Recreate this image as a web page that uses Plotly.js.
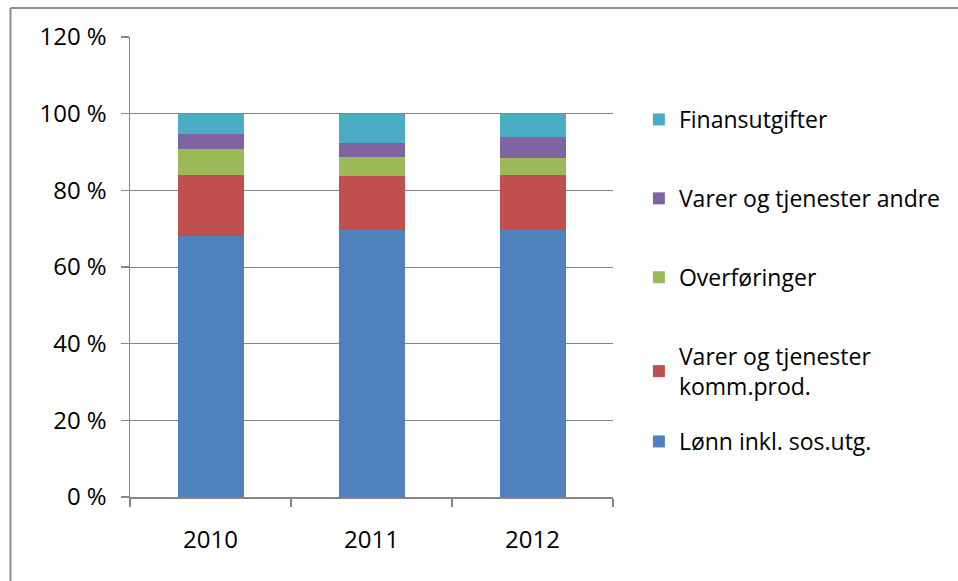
<!DOCTYPE html>
<html>
<head>
<meta charset="utf-8">
<script src="https://cdn.plot.ly/plotly-3.0.1.min.js"></script>
<style>html,body{margin:0;padding:0;background:#fff;}#chart{width:958px;height:581px;}</style>
</head>
<body>
<div id="chart"></div>
<script>
const years = ["2010", "2011", "2012"];
const lonn = [68.1, 69.7, 69.7];
const varerKomm = [15.9, 14.0, 14.3];
const overforinger = [6.7, 5.0, 4.4];
const varerAndre = [4.0, 3.6, 5.5];
const finans = [5.3, 7.7, 6.1];

const seriesNames = ["Lønn inkl. sos.utg.", "Varer og tjenester<br>komm.prod.", "Overføringer", "Varer og tjenester andre", "Finansutgifter"];
const seriesValues = [lonn, varerKomm, overforinger, varerAndre, finans];
const seriesColors = ["#4F81BD", "#C0504D", "#9BBB59", "#8064A2", "#4BACC6"];

const traces = seriesNames.map((n, i) => ({
  type: "bar",
  name: n,
  x: years,
  y: seriesValues[i],
  marker: {color: seriesColors[i], line: {width: 0}},
  legendgroup: "g" + i,
  legendrank: 100 - i,
  legend: i === 0 ? "legend2" : "legend",
  hoverinfo: "x+y+name"
}));

const W = 958, H = 581, L = 130, R = 343, T = 37, B = 84;
const pw = W - L - R, ph = H - T - B;
const px = v => (v - L) / pw;
const py = v => (H - B - v) / ph;
const gray = "#868686";
const fam = "'Open Sans', 'Noto Sans', sans-serif";
const legFont = {family: fam, size: 23, color: "#000"};
const tickFont = {family: fam, size: 24, color: "#000"};

const layout = {
  width: W, height: H,
  margin: {l: L, r: R, t: T, b: B},
  barmode: "stack",
  bargap: 0.59,
  paper_bgcolor: "#fff",
  plot_bgcolor: "#fff",
  font: {family: fam, size: 23, color: "#000"},
  showlegend: true,
  legend: {
    x: px(641), y: py(98), xanchor: "left", yanchor: "top",
    traceorder: "grouped",
    tracegroupgap: 46,
    itemwidth: 30,
    font: legFont,
    bgcolor: "rgba(0,0,0,0)"
  },
  legend2: {
    x: px(641), y: py(420), xanchor: "left", yanchor: "top",
    itemwidth: 30,
    font: legFont,
    bgcolor: "rgba(0,0,0,0)"
  },
  xaxis: {
    type: "category",
    showline: true, linecolor: gray, linewidth: 1.5,
    ticks: "outside", tickson: "boundaries", ticklen: 8, tickcolor: gray, tickwidth: 1.5,
    ticklabelstandoff: 21,
    showgrid: false, zeroline: false,
    tickfont: tickFont,
    fixedrange: true
  },
  yaxis: {
    range: [0, 120], dtick: 20, tick0: 0,
    ticksuffix: " %",
    showline: true, linecolor: gray, linewidth: 1.5,
    ticks: "outside", ticklen: 8, tickcolor: gray, tickwidth: 1.5,
    ticklabelstandoff: 9,
    showgrid: true, gridcolor: gray, gridwidth: 1,
    zeroline: false,
    tickfont: tickFont,
    fixedrange: true
  },
  shapes: [
    {type: "line", xref: "paper", yref: "paper", x0: px(10), x1: px(W + 5), y0: py(8), y1: py(8), line: {color: "#8c8c8c", width: 2}},
    {type: "line", xref: "paper", yref: "paper", x0: px(10), x1: px(10), y0: py(8), y1: py(H + 5), line: {color: "#8c8c8c", width: 2}}
  ]
};

Plotly.newPlot("chart", traces, layout, {displayModeBar: false, staticPlot: true});
</script>
</body>
</html>
